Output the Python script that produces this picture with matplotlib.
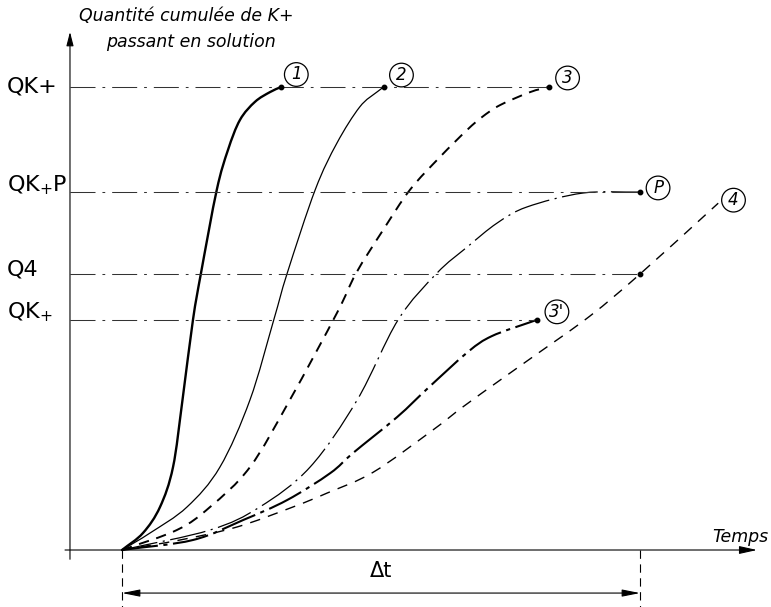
import matplotlib
matplotlib.use("Agg")
import matplotlib.pyplot as plt
import numpy as np
from matplotlib.path import Path
from matplotlib.patches import PathPatch

plt.rcParams['lines.scale_dashes'] = False
plt.rcParams['font.family'] = ['DejaVu Sans']
plt.rcParams['mathtext.default'] = 'regular'

# ---- data (t: time units, Δt = 100 ; Q: quantity, QK+ = 100) ----
t1 = [0, 4.05, 7.34, 9.85, 11.68, 13.7, 15.25, 18.3, 20.46, 22.78, 25.68, 28.57, 30.7]
q1 = [0, 3.67, 9.29, 17.9, 32.4, 49.7, 59.8, 77.8, 86.4, 92.9, 96.8, 98.9, 100]

t2 = [0, 5.41, 12.55, 18.9, 24.7, 29.3, 31.9, 37.3, 41.5, 45.9, 49.2, 50.6]
q2 = [0, 3.67, 9.29, 17.9, 32.4, 49.7, 59.8, 77.8, 87.9, 95.7, 98.9, 100]

t3 = [0, 10.6, 17.0, 24.7, 32.4, 41.5, 45.2, 50.4, 55.6, 61.4, 66.6, 69.5, 73.0, 78.8, 82.4]
q3 = [0, 4.32, 9.29, 17.9, 32.4, 51.2, 59.8, 69.1, 77.8, 84.9, 90.7, 93.5, 96.1, 98.9, 100]

tP = [0, 17.0, 26.6, 36.3, 45.4, 53.3, 60.8, 66.6, 72.4, 78.2, 89.0, 100]
qP = [0, 4.32, 9.29, 17.9, 32.4, 49.7, 59.8, 65.4, 70.6, 74.1, 77.1, 77.3]

t3p = [0, 13.7, 23.4, 31.9, 40.2, 44.6, 53.1, 59.1, 66.8, 71.4, 78.8, 80.1]
q3p = [0, 2.16, 6.48, 10.8, 16.6, 20.95, 28.7, 35.0, 42.8, 46.2, 49.2, 49.7]

t4 = [0, 11.2, 22.2, 33.0, 39.6, 48.5, 60.0, 65.8, 73.0, 79.3, 90.3, 100.0, 115.1]
q4 = [0, 2.16, 4.97, 9.29, 12.3, 16.8, 25.9, 30.9, 36.7, 41.7, 50.5, 59.6, 74.9]

level_values = [100, 77.3, 59.6, 49.7]
level_labels = ["QK+", "QK$_{+}$P", "Q4", "QK$_{+}$"]
delta_t = 100

curve_labels = ["1", "2", "3", "P", "4", "3'"]
title_lines = ["Quantité cumulée de K+", "passant en solution"]
xlabel = "Temps"

# ---- figure ----
fig = plt.figure(figsize=(7.71, 6.07), dpi=100)
ax = fig.add_axes([0, 0, 1, 1])
ax.set_xlim(-23.55, 125.29)
ax.set_ylim(-12.31, 118.79)
ax.axis('off')

k = 'black'


def smooth_curve(ax, xs, ys, **kw):
    """Draw a smooth Bezier path passing through the given points."""
    sx, sy = 5.18, 4.63
    P = np.column_stack([np.asarray(xs) * sx, np.asarray(ys) * sy])
    n = len(P)
    T = np.zeros_like(P)
    T[1:-1] = (P[2:] - P[:-2]) / 2.0
    T[0] = P[1] - P[0]
    T[-1] = P[-1] - P[-2]
    verts = [P[0]]
    codes = [Path.MOVETO]
    for i in range(n - 1):
        c1 = P[i] + T[i] / 3.0
        c2 = P[i + 1] - T[i + 1] / 3.0
        verts += [c1, c2, P[i + 1]]
        codes += [Path.CURVE4] * 3
    V = np.array(verts) / np.array([sx, sy])
    ax.add_patch(PathPatch(Path(V, codes), fill=False, **kw))


# axes
ax.annotate('', xy=(-10.04, 111.9), xytext=(-10.04, -2.0),
            arrowprops=dict(arrowstyle='-|>,head_length=0.7,head_width=0.18',
                            lw=0.8, color=k, shrinkA=0, shrinkB=0, mutation_scale=12))
ax.annotate('', xy=(122.6, 0), xytext=(-11.0, 0),
            arrowprops=dict(arrowstyle='-|>,head_length=0.9,head_width=0.2',
                            lw=0.8, color=k, shrinkA=0, shrinkB=0, mutation_scale=12))

# reference levels
ref_ls = (0, (18, 5, 2, 5))
level_ends = [t3[-1], tP[-1], delta_t, t3p[-1]]
for v, e in zip(level_values, level_ends):
    ax.plot([-10.04, e], [v, v], color='#333333', lw=0.75, ls=ref_ls)
label_offsets = [0, 1.5, 1.0, 1.6]
for v, lab, off in zip(level_values, level_labels, label_offsets):
    ax.text(-22.2, v + off, lab, fontsize=16, ha='left', va='center', color=k)

# curves
smooth_curve(ax, t1, q1, color=k, lw=1.7, capstyle='round')
smooth_curve(ax, t2, q2, color=k, lw=0.9)
smooth_curve(ax, t3, q3, color=k, lw=1.4, ls=(0, (7.5, 5.5)))
smooth_curve(ax, tP, qP, color=k, lw=0.9, ls=(0, (26, 4, 1.5, 4)))
smooth_curve(ax, t3p, q3p, color=k, lw=1.5, ls=(0, (26, 4, 3, 4)))
smooth_curve(ax, t4, q4, color=k, lw=1.0, ls=(0, (7.5, 6)))

# end dots
ends_t = [t1[-1], t2[-1], t3[-1], tP[-1], delta_t, t3p[-1]]
ends_q = [q1[-1], q2[-1], q3[-1], qP[-1], level_values[2], q3p[-1]]
ax.plot(ends_t, ends_q, 'o', color=k, ms=3.2)

# circled labels
circ_pos = [(t1[-1], q1[-1]), (t2[-1], q2[-1]), (t3[-1], q3[-1]),
            (tP[-1], qP[-1]), (t4[-1], q4[-1]), (t3p[-1], q3p[-1])]
circ_off = [(11, 9), (12.5, 8.6), (13.5, 6.5), (13, 3), (11, 2.2), (14.4, 5.8)]
for s, (x, y), off in zip(curve_labels, circ_pos, circ_off):
    ax.annotate(s, xy=(x, y), xytext=off, textcoords='offset points',
                ha='center', va='center', fontsize=12, style='italic',
                bbox=dict(boxstyle='circle,pad=0.17', fc='white', ec=k, lw=0.9))

# Δt
ax.plot([0, 0], [0, -12.3], color=k, lw=0.8, ls=(0, (6, 4)))
ax.plot([delta_t, delta_t], [0, -12.3], color=k, lw=0.8, ls=(0, (6, 4)))
ax.annotate('', xy=(0, -9.3), xytext=(delta_t, -9.3),
            arrowprops=dict(arrowstyle='<|-|>,head_length=0.9,head_width=0.18',
                            lw=0.8, color=k, shrinkA=0, shrinkB=0, mutation_scale=12))
ax.text(delta_t / 2, -4.6, "\u0394t", fontsize=15, ha='center', va='center', color=k)

# titles
ax.text(12.5, 115.3, title_lines[0], fontsize=12.5, style='italic', ha='center', va='center', color=k)
ax.text(13.3, 109.7, title_lines[1], fontsize=12.5, style='italic', ha='center', va='center', color=k)
ax.text(119.3, 2.9, xlabel, fontsize=12.5, style='italic', ha='center', va='center', color=k)

fig.savefig("out.png", dpi=100)
